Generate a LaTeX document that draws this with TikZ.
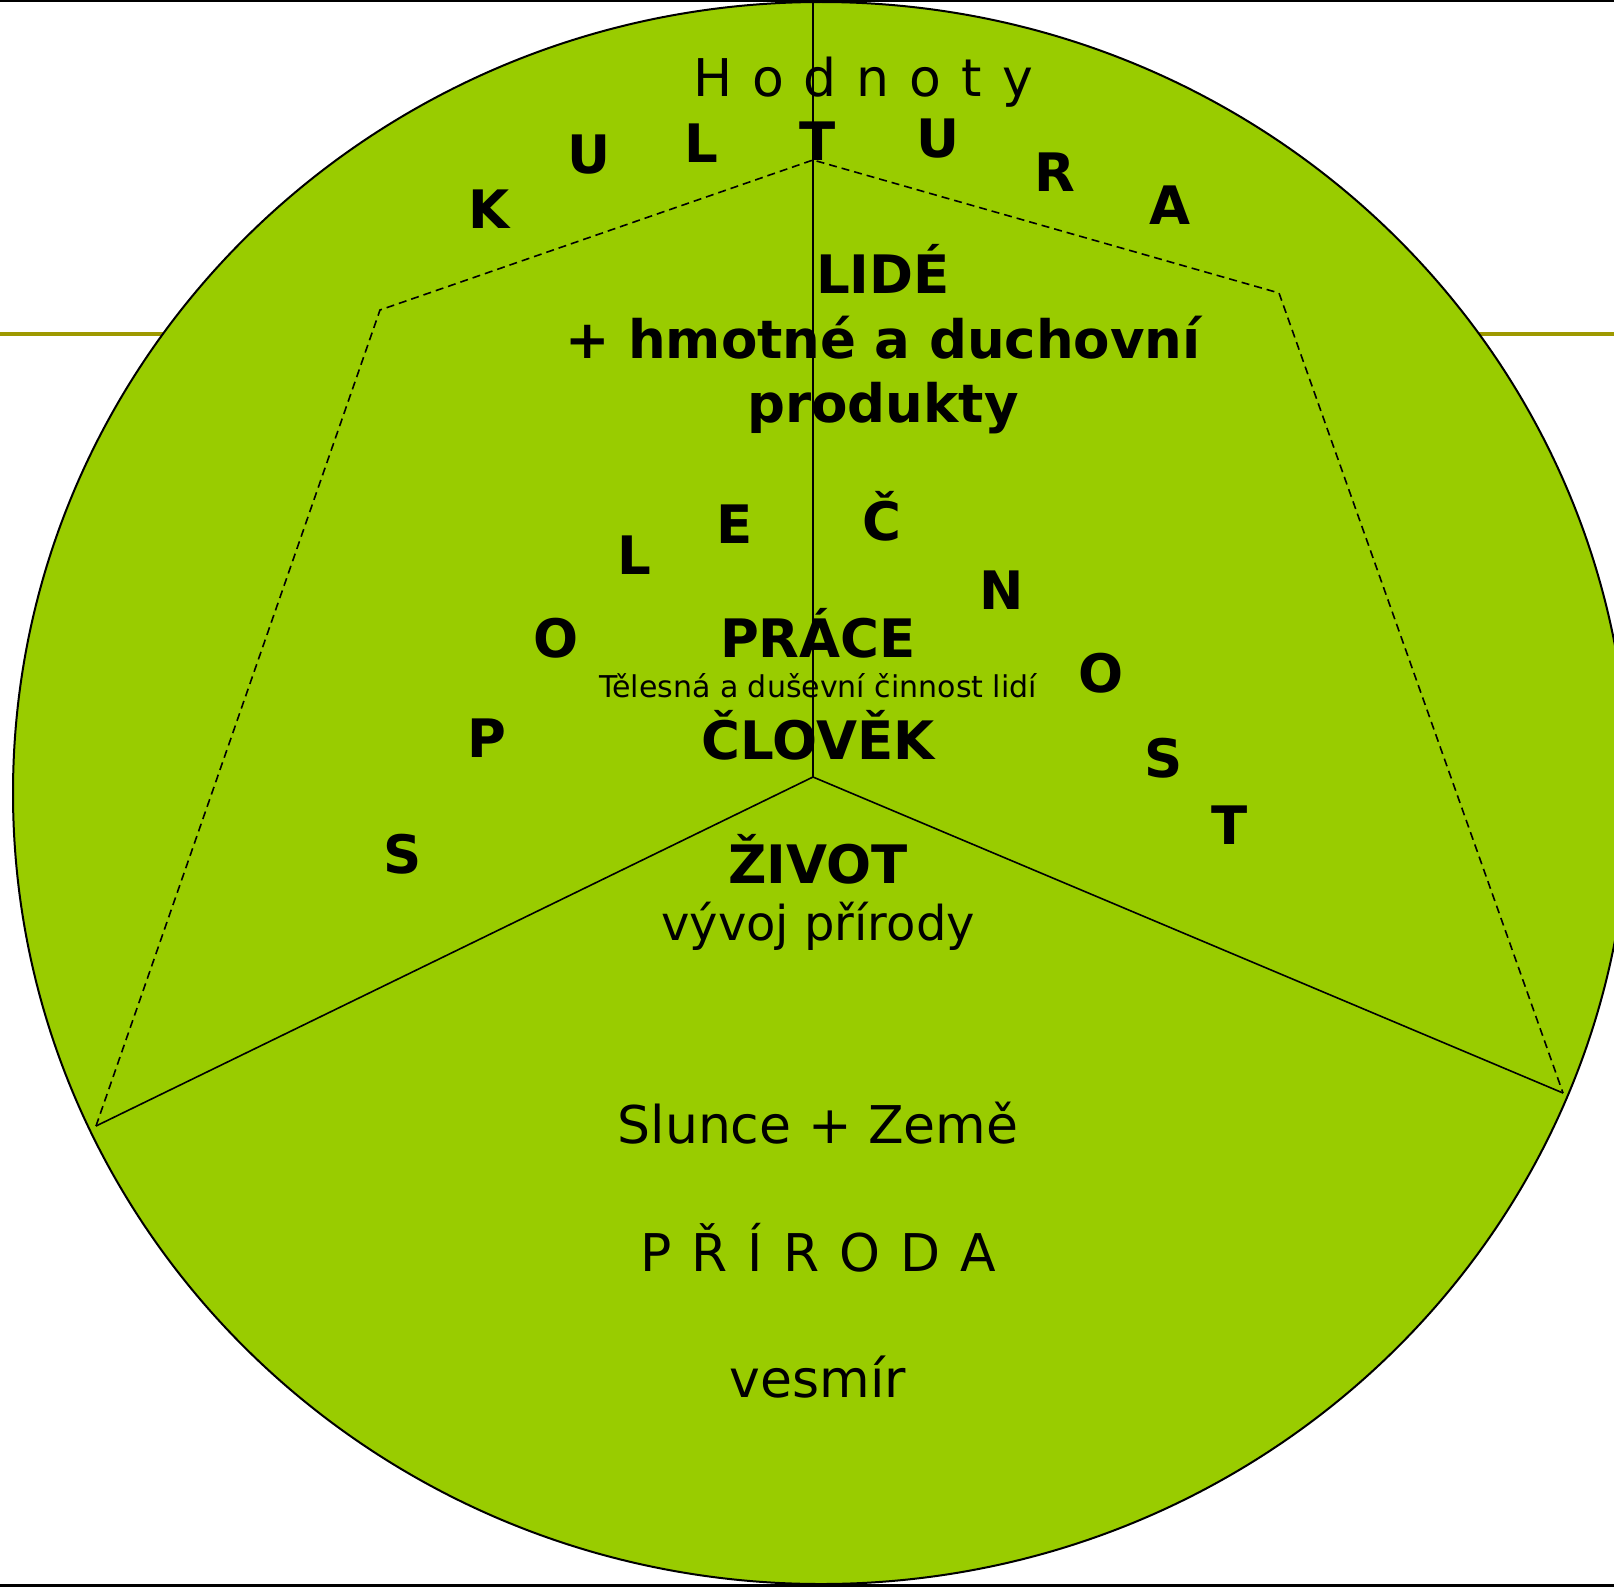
\documentclass[tikz,border=0pt]{standalone}
\usepackage{fontspec}
\setmainfont{DejaVu Sans}
\usepackage{tikz}

\definecolor{leaf}{RGB}{153,204,0}
\definecolor{olivebar}{RGB}{158,153,0}
\newcommand{\lgap}{\hspace{20pt}}

\tikzset{
  heavy/.style={font=\fontsize{53}{62}\selectfont\bfseries, inner sep=0pt, anchor=base},
  light/.style={font=\fontsize{52}{62}\selectfont, inner sep=0pt, anchor=base},
  tiny/.style={font=\fontsize{30}{36}\selectfont, inner sep=0pt, anchor=base},
  rim/.style={line width=1.6pt},
  hedge/.style={line width=1.6pt, dash pattern=on 8pt off 5pt}
}

\begin{document}
\begin{tikzpicture}[x=1pt,y=-1pt]
  \useasboundingbox (0,0) rectangle (1614,1587);
  \draw[olivebar, line width=4pt] (0,334) -- (1614,334);
  \filldraw[fill=leaf, line width=2pt] (821,793) ellipse (808 and 791);
  \draw[line width=3pt] (0,1) -- (1614,1);
  \draw[line width=3pt] (0,1585) -- (1614,1585);

  \coordinate (zenith) at (813,0);
  \coordinate (apex) at (813,160);
  \coordinate (hub) at (813,777);
  \coordinate (ltop) at (380,310);
  \coordinate (rtop) at (1279,293);
  \coordinate (lfoot) at (96,1126);
  \coordinate (rfoot) at (1563,1093);

  \draw[rim] (zenith) -- (hub);
  \draw[rim] (lfoot) -- (hub) -- (rfoot);
  \draw[hedge] (lfoot) -- (ltop) -- (apex) -- (rtop) -- (rfoot);

  % kultura
  \node[light] (hodnoty) at (863,96) {H\lgap o\lgap d\lgap n\lgap o\lgap t\lgap y};
  \node[heavy] (k1) at (489,228) {K};
  \node[heavy] (k2) at (589,173) {U};
  \node[heavy] (k3) at (701,162) {L};
  \node[heavy] (k4) at (818,160) {T};
  \node[heavy] (k5) at (938,157) {U};
  \node[heavy] (k6) at (1055,191) {R};
  \node[heavy] (k7) at (1170,224) {A};
  \node[heavy] (lide) at (883,293) {LIDÉ};
  \node[heavy] (produkty1) at (883,358) {+ hmotné a duchovní};
  \node[heavy] (produkty2) at (883,422) {produkty};

  % spolecnost
  \node[heavy] (s1) at (403,873) {S};
  \node[heavy] (s2) at (487,757) {P};
  \node[heavy] (s3) at (556,657) {O};
  \node[heavy] (s4) at (634,574) {L};
  \node[heavy] (s5) at (735,543) {E};
  \node[heavy] (s6) at (882,540) {Č};
  \node[heavy] (s7) at (1002,609) {N};
  \node[heavy] (s8) at (1101,692) {O};
  \node[heavy] (s9) at (1164,777) {S};
  \node[heavy] (s10) at (1230,844) {T};
  \node[heavy] (prace) at (818,657) {PRÁCE};
  \node[tiny] (cinnost) at (818,697) {Tělesná a duševní činnost lidí};
  \node[heavy] (clovek) at (818,759) {ČLOVĚK};

  % priroda
  \node[heavy] (zivot) at (818,883) {ŽIVOT};
  \node[light, font=\fontsize{48}{58}\selectfont] (vyvoj) at (818,940) {vývoj přírody};
  \node[light] (slunce) at (818,1143) {Slunce + Země};
  \node[light] (priroda) at (818,1271) {P\lgap Ř\lgap Í\lgap R\lgap O\lgap D\lgap A};
  \node[light] (vesmir) at (818,1397) {vesmír};
\end{tikzpicture}
\end{document}
